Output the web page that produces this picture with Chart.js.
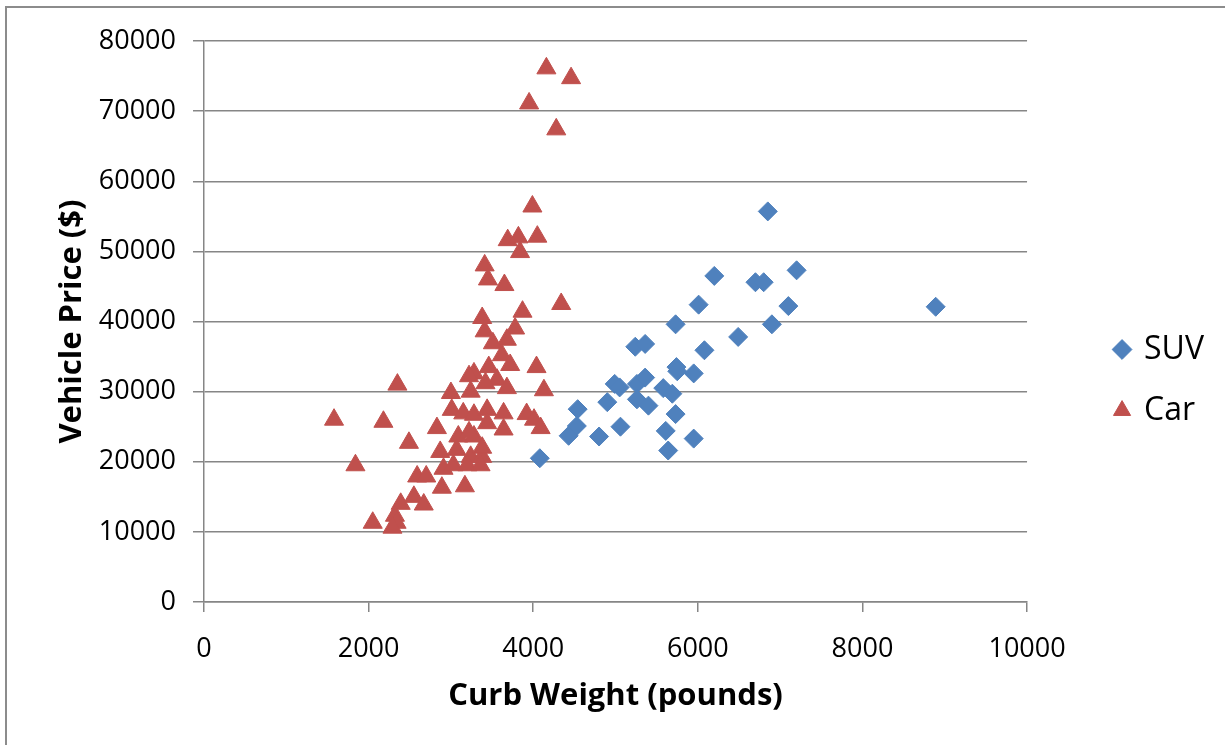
<!DOCTYPE html>
<html>
<head>
<meta charset="utf-8">
<script src="https://cdn.jsdelivr.net/npm/chart.js@4/dist/chart.umd.min.js"></script>
<style>
  html, body { margin: 0; padding: 0; background: #fff; overflow: hidden; }
  #frame {
    position: absolute; left: 5px; top: 6px; width: 1400px; height: 900px;
    border-left: 2px solid #8c8c8c; border-top: 2px solid #8c8c8c;
  }
  #wrap { position: absolute; left: 0; top: 0; width: 1225px; height: 745px; }
</style>
</head>
<body>
<div id="frame"></div>
<div id="wrap"><canvas id="myChart"></canvas></div>
<script>
// SUV series (curb weight in pounds, price in $)
const suvWeight = [4080, 4430, 4530, 4540, 4800, 4900, 4990, 5050, 5060, 5240,
  5260, 5260, 5360, 5360, 5400, 5580, 5610, 5640, 5690, 5730,
  5730, 5740, 5750, 5950, 5950, 6010, 6080, 6200, 6490, 6700,
  6800, 6850, 6900, 7100, 7200, 8890];
const suvPrice = [20500, 23700, 25100, 27500, 23600, 28500, 31100, 30600, 25000, 36400,
  31100, 28900, 36800, 32000, 28000, 30500, 24400, 21600, 29700, 39600,
  26800, 33500, 32900, 32600, 23300, 42400, 35900, 46500, 37800, 45600,
  45600, 55700, 39600, 42200, 47300, 42100];

// Car series
const carWeight = [4160, 4460, 3950, 4280, 3990, 3690, 3820, 4050, 3840, 3410,
  3450, 3650, 4340, 3380, 3870, 3410, 3780, 3680, 3510, 3620,
  3720, 3280, 3220, 3460, 3560, 3680, 3420, 3240, 3000, 4040,
  4130, 2350, 3010, 3150, 3280, 3440, 3640, 3920, 4010, 4090,
  1580, 2180, 2830, 2490, 3090, 3280, 3440, 3640, 2870, 3070,
  3240, 3380, 1840, 2910, 3030, 3200, 3360, 2590, 2700, 2890,
  3170, 2390, 2550, 2670, 2320, 2340, 2050, 2290, 3220, 3380];
const carPrice = [76100, 74700, 71100, 67400, 56400, 51600, 52000, 52100, 49900, 48000,
  46000, 45200, 42500, 40500, 41400, 38600, 39000, 37400, 36900, 35200,
  33800, 32600, 32200, 33500, 31700, 30500, 31200, 30000, 29800, 33500,
  30200, 31000, 27400, 26900, 26700, 27400, 26900, 26800, 26000, 24800,
  26000, 25700, 24800, 22700, 23600, 23600, 25500, 24600, 21400, 21700,
  20700, 20700, 19500, 19000, 19500, 19500, 19500, 17900, 17900, 16300,
  16500, 14000, 15000, 13900, 12300, 11300, 11300, 10600, 24200, 22000];

const xTicks = [0, 2000, 4000, 6000, 8000, 10000];
const yTicks = [0, 10000, 20000, 30000, 40000, 50000, 60000, 70000, 80000];

const toPoints = (xs, ys) => xs.map((x, i) => ({ x: x, y: ys[i] }));

const gridColor = "#868686";
const font = "'Open Sans', 'DejaVu Sans', sans-serif";

const config = {
  type: "scatter",
  data: {
    datasets: [
      {
        label: "SUV",
        data: toPoints(suvWeight, suvPrice),
        pointStyle: "rectRot",
        pointRadius: 9.5,
        pointHoverRadius: 9.5,
        backgroundColor: "#4F81BD",
        borderColor: "#4F81BD",
        borderWidth: 1,
      },
      {
        label: "Car",
        data: toPoints(carWeight, carPrice),
        pointStyle: "triangle",
        pointRadius: 11,
        pointHoverRadius: 11,
        backgroundColor: "#C0504D",
        borderColor: "#C0504D",
        borderWidth: 1,
      },
    ],
  },
  options: {
    responsive: true,
    maintainAspectRatio: false,
    animation: false,
    layout: { padding: { top: 15, right: 11, bottom: 0, left: 0 } },
    scales: {
      x: {
        type: "linear",
        min: 0,
        max: 10000,
        afterBuildTicks: (s) => { s.ticks = xTicks.map((v) => ({ value: v })); },
        afterFit: (s) => { s.height = 143; },
        ticks: {
          color: "#000",
          font: { family: font, size: 27 },
          padding: 21,
          maxRotation: 0,
          callback: (v) => String(v),
        },
        grid: { drawOnChartArea: false, color: gridColor, lineWidth: 1.5, tickLength: 10 },
        border: { color: gridColor, width: 1.5 },
        title: {
          display: true,
          text: "Curb Weight (pounds)",
          color: "#000",
          font: { family: font, size: 31, weight: "bold" },
          padding: { top: 0, bottom: 30 },
        },
      },
      top: {
        type: "linear",
        position: "top",
        min: 0,
        max: 1,
        ticks: { display: false },
        grid: { display: false },
        border: { display: false },
        afterFit: (s) => { s.height = 26; },
      },
      y: {
        type: "linear",
        min: 0,
        max: 80000,
        afterBuildTicks: (s) => { s.ticks = yTicks.map((v) => ({ value: v })); },
        afterFit: (s) => { s.width = 204; },
        ticks: {
          color: "#000",
          font: { family: font, size: 27 },
          padding: 17,
          callback: (v) => String(v),
        },
        grid: { color: gridColor, lineWidth: 1.5, tickLength: 11 },
        border: { color: gridColor, width: 1.5 },
        title: {
          display: true,
          text: "Vehicle Price ($)",
          color: "#000",
          font: { family: font, size: 31, weight: "bold" },
          padding: { top: 54, bottom: 0 },
        },
      },
      gap: {
        type: "linear",
        position: "right",
        min: 0,
        max: 1,
        ticks: { display: false },
        grid: { display: false },
        border: { display: false },
        afterFit: (s) => { s.width = 60; },
      },
    },
    plugins: {
      legend: {
        position: "right",
        labels: {
          color: "#000",
          font: { family: font, size: 32 },
          usePointStyle: true,
          boxWidth: 12,
          boxHeight: 14,
          padding: 29,
        },
      },
      tooltip: { enabled: false },
    },
  },
};

new Chart(document.getElementById("myChart"), config);
</script>
</body>
</html>
